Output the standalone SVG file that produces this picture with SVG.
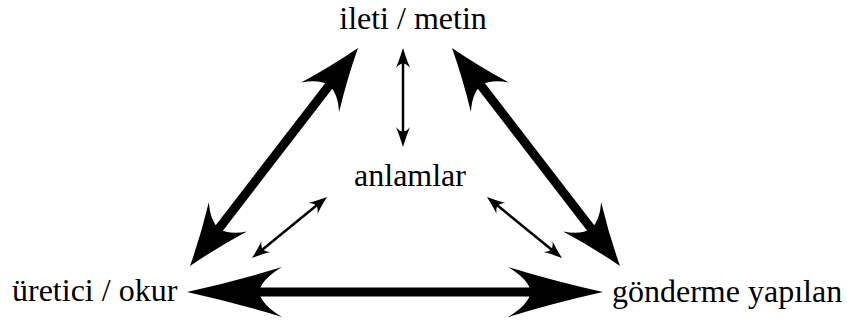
<svg xmlns="http://www.w3.org/2000/svg" xmlns:xlink="http://www.w3.org/1999/xlink" width="847" height="321" viewBox="0 0 847 321">
<style>
.lbl{font-family:"Times New Roman","Liberation Serif","DejaVu Serif","Noto Serif",serif;font-size:32px;fill:#000}
.thick{stroke:#000;stroke-width:9;fill:none}
.thin{stroke:#000;stroke-width:2.5;fill:none}
.head{fill:#000}
</style>
<defs>
<path id="ah" d="M0,0 Q-0.5,-0.42 -1,-1 Q-0.78,-0.5 -0.76,0 Q-0.78,0.5 -1,1 Q-0.5,0.42 0,0Z"/>
</defs>
<rect width="847" height="321" fill="#fff"/>
<g id="connectors">
<line class="thick" x1="336.6" y1="75.7" x2="211.4" y2="238.3"/>
<use href="#ah" class="head" transform="translate(358,48) rotate(-52.4) scale(62,24)"/>
<use href="#ah" class="head" transform="translate(190,266) rotate(127.6) scale(62,24)"/>
<line class="thick" x1="473.4" y1="75.7" x2="598.6" y2="238.3"/>
<use href="#ah" class="head" transform="translate(452,48) rotate(-127.6) scale(62,24)"/>
<use href="#ah" class="head" transform="translate(620,266) rotate(52.4) scale(62,24)"/>
<line class="thick" x1="247" y1="292" x2="543" y2="292"/>
<use href="#ah" class="head" transform="translate(187,292) rotate(180) scale(95,25)"/>
<use href="#ah" class="head" transform="translate(603,292) scale(95,25)"/>
<line class="thin" x1="403" y1="58" x2="403" y2="137"/>
<use href="#ah" class="head" transform="translate(403,48) rotate(-90) scale(20,7)"/>
<use href="#ah" class="head" transform="translate(403,147) rotate(90) scale(20,7)"/>
<line class="thin" x1="319.2" y1="203.3" x2="259.8" y2="251.7"/>
<use href="#ah" class="head" transform="translate(327,197) rotate(-39.1) scale(18,7)"/>
<use href="#ah" class="head" transform="translate(252,258) rotate(140.9) scale(18,7)"/>
<line class="thin" x1="494.8" y1="203.3" x2="554.2" y2="251.7"/>
<use href="#ah" class="head" transform="translate(487,197) rotate(-140.9) scale(18,7)"/>
<use href="#ah" class="head" transform="translate(562,258) rotate(39.1) scale(18,7)"/>
</g>
<g id="ileti"><text class="lbl" x="413" y="29" text-anchor="middle">ileti / metin</text></g>
<g id="anlamlar"><text class="lbl" x="410" y="186" text-anchor="middle">anlamlar</text></g>
<g id="uretici"><text class="lbl" x="12" y="301">üretici / okur</text></g>
<g id="gonderme"><text class="lbl" x="612" y="302">gönderme yapılan</text></g>
</svg>
